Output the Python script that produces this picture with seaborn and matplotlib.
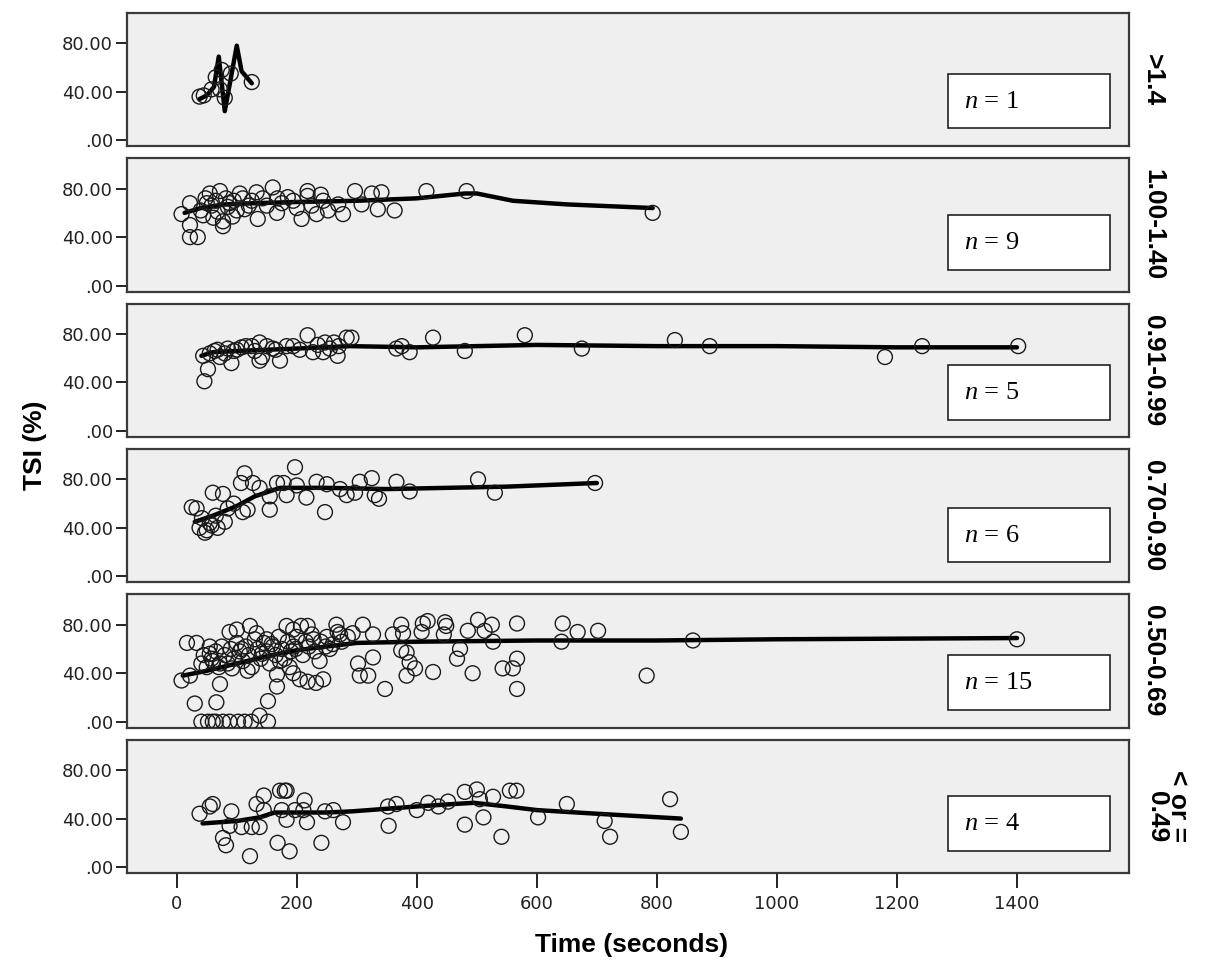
import numpy as np
import pandas as pd
import matplotlib
matplotlib.use("Agg")
import matplotlib.pyplot as plt
import seaborn as sns

# ---------------- data ----------------
panel_labels = [">1.4", "1.00-1.40", "0.91-0.99", "0.70-0.90", "0.50-0.69", "< or =\n0.49"]
n_labels = ["1", "9", "5", "6", "15", "4"]
x_ticks = [0, 200, 400, 600, 800, 1000, 1200, 1400]
y_ticks = [0, 40, 80]
y_tick_labels = [".00", "40.00", "80.00"]

# panel 1 (>1.4)
p1_x = [38, 45, 58, 65, 72, 75, 80, 90, 125]
p1_y = [36, 37, 42, 52, 42, 58, 35, 55, 48]
f1_x = [38, 50, 62, 70, 80, 100, 108, 125]
f1_y = [34, 37, 44, 69, 24, 78, 57, 47]

# panel 2 (1.00-1.40)
p2_x = [8, 22, 22, 22, 35, 44, 55, 50, 61, 72, 77, 77, 88, 93, 105, 113, 133, 135, 143, 160,
        167, 168, 194, 208, 218, 218, 233, 244, 252, 269, 277, 297, 308, 325, 335, 341, 363,
        416, 483, 793,
        40, 48, 58, 65, 68, 82, 85, 95, 100, 110, 120, 125, 150, 175, 185, 200, 225, 240]
p2_y = [59, 68, 50, 40, 40, 58, 76, 68, 56, 78, 53, 49, 68, 57, 76, 63, 77, 55, 72, 81,
        60, 72, 70, 55, 78, 74, 59, 70, 62, 67, 59, 78, 67, 76, 63, 77, 62,
        78, 78, 60,
        62, 72, 66, 70, 61, 72, 65, 70, 62, 72, 66, 70, 66, 68, 73, 64, 66, 75]
f2_x = [13, 40, 80, 130, 200, 300, 400, 480, 500, 560, 650, 793]
f2_y = [60, 64, 67, 68, 69, 70, 72, 76, 76, 70, 67, 64]

# panel 3 (0.91-0.99)
p3_x = [44, 46, 52, 63, 72, 91, 95, 108, 125, 138, 138, 142, 160, 172, 183, 194, 218, 227,
        247, 244, 268, 270, 283, 291, 366, 375, 388, 427, 480, 580, 675, 830, 888, 1180,
        1242, 1402,
        55, 68, 80, 85, 100, 115, 130, 150, 165, 205, 235, 255, 262]
p3_y = [62, 41, 51, 66, 61, 56, 66, 69, 70, 73, 58, 61, 68, 58, 70, 70, 79, 65,
        73, 65, 62, 70, 77, 77, 68, 70, 65, 77, 66, 79, 68, 75, 70, 61,
        70, 70,
        64, 67, 64, 68, 67, 70, 66, 70, 67, 67, 71, 68, 73]
f3_x = [41, 60, 100, 150, 200, 288, 400, 500, 600, 800, 1000, 1200, 1400]
f3_y = [62, 65, 66, 67, 68, 70, 69, 70, 71, 70, 70, 69, 69]

# panel 4 (0.70-0.90)
p4_x = [25, 33, 38, 47, 55, 60, 68, 77, 80, 110, 113, 107, 118, 127, 138, 155, 155, 167,
        178, 183, 197, 200, 216, 233, 247, 250, 272, 283, 297, 305, 325, 330, 337, 366,
        388, 502, 530, 697,
        42, 50, 58, 65, 85, 95]
p4_y = [57, 56, 40, 36, 44, 69, 40, 68, 45, 53, 85, 77, 55, 77, 73, 55, 66, 77,
        77, 67, 90, 75, 65, 78, 53, 76, 72, 67, 69, 78, 81, 67, 64, 78,
        70, 80, 69, 77,
        48, 38, 42, 50, 56, 60]
f4_x = [30, 60, 100, 130, 172, 250, 350, 450, 550, 700]
f4_y = [45, 50, 58, 66, 73, 73, 72, 73, 74, 77]

# panel 5 (0.50-0.69)
p5_x = [17, 33, 8, 22, 30, 41, 41, 52, 60, 65, 77, 88, 102, 113, 124, 138, 152, 66, 72, 55,
        88, 100, 122, 133, 150, 152, 167, 167, 183, 194, 207, 218, 194, 205, 218, 232, 244,
        238, 266, 272, 293, 302, 305, 319, 310, 327, 327, 347, 360, 374, 377, 374, 383,
        388, 383, 397, 410, 418, 408, 427, 445, 447, 449, 467, 472, 485, 493, 502, 513,
        525, 527, 543, 560, 567, 567, 567, 643, 641, 668, 702, 783, 860, 1400,
        45, 50, 55, 60, 65, 70, 75, 80, 85, 90, 95, 100, 105, 110, 115, 120, 125, 130,
        135, 140, 145, 150, 155, 160, 165, 170, 175, 180, 185, 190, 195, 200, 210, 215,
        220, 225, 230, 240, 250, 255, 260, 275, 285,
        58, 72, 92, 108, 118, 142, 158, 172, 188, 198, 228, 248, 268]
p5_y = [65, 65, 34, 38, 15, 48, 0, 0, 0, 0, 0, 0, 0, 0, 0, 5, 0, 16, 31, 56,
        74, 76, 79, 73, 68, 17, 29, 39, 79, 76, 79, 79, 40, 35, 33, 32, 35,
        50, 80, 72, 73, 48, 38, 38, 80, 53, 72, 27, 72, 80, 73, 59, 57,
        49, 38, 44, 81, 83, 74, 41, 72, 82, 79, 52, 60, 75, 40, 84, 75,
        80, 66, 44, 44, 52, 27, 81, 81, 66, 74, 75, 38, 67, 68,
        55, 45, 62, 50, 58, 45, 62, 55, 48, 60, 52, 65, 58, 50, 62, 55, 45, 68,
        60, 52, 65, 58, 48, 62, 55, 70, 60, 52, 66, 58, 62, 70, 55, 66,
        62, 72, 58, 66, 70, 60, 64, 66, 70,
        52, 48, 44, 60, 42, 56, 64, 50, 45, 60, 68, 62, 74]
f5_x = [10, 50, 100, 150, 200, 250, 300, 400, 600, 800, 1000, 1400]
f5_y = [38, 42, 48, 54, 59, 62, 65, 66, 67, 67, 68, 69]

# panel 6 (< or = 0.49)
p6_x = [38, 55, 60, 91, 77, 82, 88, 108, 122, 125, 138, 133, 145, 145, 168, 172, 180, 183,
        175, 183, 188, 197, 211, 213, 217, 241, 247, 261, 277, 352, 366, 353, 400, 419,
        436, 452, 480, 500, 480, 505, 527, 511, 541, 555, 566, 602, 650, 713, 722, 822, 840]
p6_y = [44, 50, 52, 46, 24, 18, 34, 33, 9, 33, 33, 52, 59, 47, 20, 63, 63, 63,
        47, 39, 13, 47, 47, 55, 37, 20, 46, 47, 37, 50, 52, 34, 47, 53,
        50, 54, 62, 64, 35, 56, 58, 41, 25, 63, 63, 41, 52, 38, 25, 56, 29]
f6_x = [43, 100, 138, 163, 250, 293, 347, 400, 461, 495, 550, 600, 700, 840]
f6_y = [36, 38, 41, 45, 45, 46, 48, 50, 52, 53, 50, 47, 44, 40]

points = [(p1_x, p1_y), (p2_x, p2_y), (p3_x, p3_y), (p4_x, p4_y), (p5_x, p5_y), (p6_x, p6_y)]
fits = [(f1_x, f1_y), (f2_x, f2_y), (f3_x, f3_y), (f4_x, f4_y), (f5_x, f5_y), (f6_x, f6_y)]

# n-box vertical placement (axes fraction) per panel
box_y0 = [0.136, 0.164, 0.127, 0.15, 0.135, 0.165]
label_x = [1.024, 1.024, 1.024, 1.024, 1.024, 1.038]

# ---------------- style ----------------
sns.set_style("white")
plt.rcParams["font.family"] = ["Liberation Sans", "DejaVu Sans"]
plt.rcParams["mathtext.fontset"] = "custom"
plt.rcParams["mathtext.it"] = "Liberation Serif:italic"
plt.rcParams["mathtext.rm"] = "Liberation Serif"

fig, axes = plt.subplots(6, 1, figsize=(12.09, 9.68), dpi=100, sharex=True)
fig.subplots_adjust(left=0.105, right=0.934, top=0.9866, bottom=0.098, hspace=0.09)

for i, ax in enumerate(axes):
    ax.set_facecolor("#efefef")
    px, py = points[i]
    fx, fy = fits[i]
    dfp = pd.DataFrame({"t": px, "tsi": py})
    dff = pd.DataFrame({"t": fx, "tsi": fy})
    sns.lineplot(data=dff, x="t", y="tsi", ax=ax, color="black", linewidth=3.2,
                 estimator=None, sort=False, zorder=3)
    sns.scatterplot(data=dfp, x="t", y="tsi", ax=ax, marker="o", s=115,
                    facecolor="none", edgecolor="#1a1a1a", linewidth=1.0, zorder=4)
    ax.set_xlim(-83, 1587)
    ax.set_ylim(-5, 105)
    ax.set_yticks(y_ticks)
    ax.set_yticklabels(y_tick_labels)
    ax.set_xlabel("")
    ax.set_ylabel("")
    for sp in ax.spines.values():
        sp.set_color("#3a3a3a")
        sp.set_linewidth(1.6)
    ax.tick_params(axis="y", which="both", left=True, direction="out", length=8,
                   width=1.4, color="#222222", labelsize=13, labelcolor="#222222", pad=2)
    ax.tick_params(axis="x", which="both", bottom=(i == 5), direction="out", length=11,
                   width=1.4, color="#222222", labelsize=13, labelcolor="#222222", pad=5)
    for lab in ax.get_yticklabels() + ax.get_xticklabels():
        lab.set_family("DejaVu Sans")
    # n box
    y0 = box_y0[i]
    rect = plt.Rectangle((0.819, y0), 0.162, 0.41, transform=ax.transAxes,
                         facecolor="white", edgecolor="#222222", linewidth=1.2, zorder=5)
    ax.add_patch(rect)
    ax.text(0.835, y0 + 0.2, r"$n$ = " + n_labels[i], transform=ax.transAxes,
            ha="left", va="center", fontsize=19, family="Liberation Serif",
            color="black", zorder=6)
    # facet label
    ax.text(label_x[i], 0.5, panel_labels[i], transform=ax.transAxes, rotation=270,
            ha="center", va="center", fontsize=19, fontweight="bold",
            multialignment="right", linespacing=0.85, color="black")

axes[-1].set_xticks(x_ticks)
axes[-1].set_xticklabels([str(v) for v in x_ticks], family="DejaVu Sans")

fig.text(0.522, 0.024, "Time (seconds)", ha="center", va="center",
         fontsize=19, fontweight="bold", color="black")
fig.text(0.029, 0.54, "TSI (%)", ha="center", va="center", rotation=90,
         fontsize=19, fontweight="bold", color="black")

fig.savefig("out.png", dpi=100)
